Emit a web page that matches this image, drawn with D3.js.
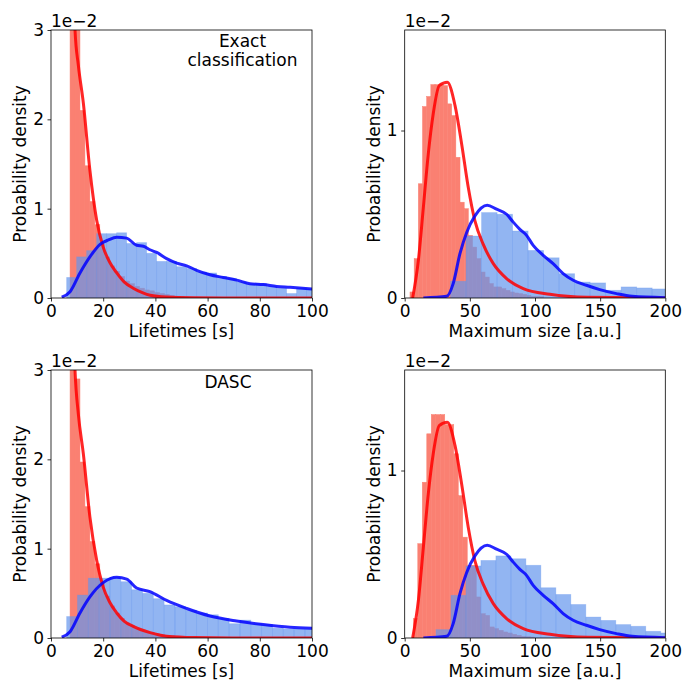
<!DOCTYPE html>
<html><head><meta charset="utf-8">
<script src="https://cdn.jsdelivr.net/npm/d3@7"></script>
<style>body{margin:0;background:#fff}svg text{font-family:"DejaVu Sans",sans-serif}</style>
</head><body><svg id="c" width="683" height="681"></svg>
<script>
// ---------- data ----------
// Panel A: lifetimes, exact classification
const lifeExactRedStart = 7.3, lifeExactRedWidth = 1.9;
const lifeExactRed = [0.045,0.031,0.021,0.0148,0.0108,0.0082,0.0060,0.0046,0.0036,0.0030,0.0024,0.0019,0.0016,0.0013,0.0011,0.0009,0.0008,0.0006,0.0005,0.0004,0.0003,0.0002,0.0002,0.0001];
const lifeExactBlueStart = 6.0, lifeExactBlueWidth = 3.83;
const lifeExactBlue = [0.0023,0.0046,0.0053,0.0072,0.0072,0.0073,0.0061,0.0062,0.0050,0.0041,0.0041,0.0035,0.0033,0.0029,0.0028,0.0024,0.0022,0.0018,0.0016,0.0016,0.0013,0.0011,0.0005,0.0011,0.0010];
const lifeExactRedLineX = [7,8,9.2,10.5,12.4,14.9,17.5,20,22.5,25.2,28,31.5,35,38,44,55,70,85,100];
const lifeExactRedLineY = [0.06,0.042,0.030,0.026,0.0218,0.0143,0.0087,0.0057,0.0040,0.0028,0.0018,0.0011,0.0006,0.0003,0.0001,0.00003,0.00001,0.0,0.0];
const lifeExactBlueLineX = [4.1,7.3,11.1,14.9,18.8,22,25.2,29,32.8,35.4,37.9,40.5,44.3,48.2,52,55.8,60.9,66,71.1,76.2,81.3,86.5,91.6,100];
const lifeExactBlueLineY = [0.0001,0.0007,0.0028,0.0046,0.0060,0.0065,0.0068,0.0067,0.0059,0.0058,0.0054,0.0051,0.0044,0.0039,0.0036,0.0031,0.0026,0.0023,0.0020,0.0016,0.0015,0.0013,0.0012,0.0010];

// Panel B: maximum size, exact classification
const sizeExactRedStart = 4.06, sizeExactRedWidth = 3.2;
const sizeExactRed = [0.00036,0.00235,0.00682,0.01143,0.01203,0.01274,0.01274,0.01278,0.01268,0.01159,0.01089,0.0084,0.00572,0.00533,0.00374,0.00304,0.00235,0.00155,0.00125,0.00086,0.00066,0.00066,0.00056,0.00046,0.00036,0.0003,0.00026,0.00022,0.00016,0.0001,0.0001,0.00008];
const sizeExactBlueStart = 35.2, sizeExactBlueWidth = 11.9;
const sizeExactBlue = [0.0010,0.0037,0.0051,0.0050,0.0040,0.00284,0.0024,0.00145,0.00095,0.0009,0.00046,0.00066,0.0006,0.00054];
const sizeExactRedLineX = [6.1,10.5,14.3,18.1,21.9,26.5,32.7,38.6,43.7,48.8,53.9,60.3,68,78.2,91,111.4,140,200];
const sizeExactRedLineY = [0,0.00225,0.0054,0.0086,0.0110,0.01268,0.01288,0.0115,0.0092,0.0066,0.0046,0.0032,0.00205,0.00116,0.00056,0.00022,0.00004,0];
const sizeExactBlueLineX = [14.3,32.2,37.2,42.4,47.5,53.9,63.3,70.5,78.2,83.3,88.4,93.5,98.6,106.3,113.9,121.6,129.3,139.5,149.7,162.5,174.6,200];
const sizeExactBlueLineY = [0,0.0001,0.00086,0.00265,0.0039,0.0049,0.00553,0.0053,0.0050,0.00453,0.0041,0.00374,0.00314,0.00255,0.00205,0.00146,0.00106,0.00076,0.0005,0.00026,0.0001,0.00002];

// Panel C: lifetimes, DASC
const lifeDascRedStart = 7.3, lifeDascRedWidth = 1.9;
const lifeDascRed = [0.045,0.029,0.0197,0.0147,0.0108,0.0083,0.0062,0.0047,0.0036,0.0028,0.0022,0.0017,0.0014,0.0011,0.0009,0.0007,0.0006,0.0005,0.0004,0.0003,0.0003,0.0002,0.0002,0.0001];
const lifeDascBlueStart = 6.0, lifeDascBlueWidth = 4.15;
const lifeDascBlue = [0.0024,0.0048,0.0067,0.0067,0.0068,0.0063,0.0054,0.0050,0.0044,0.0037,0.0035,0.0031,0.0028,0.0026,0.0022,0.0016,0.0020,0.0016,0.0015,0.0011,0.0010,0.0010,0.0010];
const lifeDascRedLineX = [7,8,9.2,10.5,12.4,14.9,17.5,20,22.5,25.2,28,31.5,38,44.3,55,70,85,100];
const lifeDascRedLineY = [0.06,0.042,0.030,0.025,0.0206,0.01356,0.0087,0.0057,0.0040,0.0028,0.0019,0.0013,0.0006,0.0002,0.00005,0.00001,0,0];
const lifeDascBlueLineX = [4.1,7.3,11.1,14.9,20,25.2,29,32.8,37.9,44.3,52,60.9,71.1,81.3,91.6,100];
const lifeDascBlueLineY = [0.0001,0.0007,0.0028,0.0046,0.0062,0.0068,0.0066,0.0056,0.0052,0.0042,0.0033,0.00246,0.0019,0.0015,0.0012,0.0011];

// Panel D: maximum size, DASC
const sizeDascRedStart = 6.6, sizeDascRedWidth = 3.45;
const sizeDascRed = [0.00116,0.00563,0.0093,0.01219,0.01334,0.01334,0.01334,0.01274,0.01274,0.0110,0.0085,0.00602,0.00434,0.00434,0.00245,0.00145,0.00135,0.00066,0.00056,0.00046,0.00036,0.0003,0.00022,0.00016,0.0001,0.00008,0.00006];
const sizeDascBlueStart = 24.0, sizeDascBlueWidth = 11.5;
const sizeDascBlue = [0.0005,0.00255,0.0043,0.00463,0.0049,0.00473,0.00434,0.0030,0.0026,0.0020,0.00125,0.00105,0.0008,0.0007,0.0004,0.0003];
const sizeDascRedLineX = sizeExactRedLineX;
const sizeDascRedLineY = [0,0.00225,0.0054,0.0086,0.0110,0.01268,0.01288,0.0115,0.0092,0.0066,0.0046,0.0032,0.00205,0.00116,0.00056,0.00022,0.00004,0];
const sizeDascBlueLineX = sizeExactBlueLineX;
const sizeDascBlueLineY = [0,0.0001,0.00086,0.00265,0.0039,0.0049,0.00553,0.0053,0.0050,0.00453,0.0041,0.00374,0.00314,0.00255,0.00205,0.00146,0.00106,0.00076,0.0005,0.00026,0.0001,0.00002];

const lifeTicks = [0,20,40,60,80,100];
const sizeTicks = [0,50,100,150,200];
const lifeYTicks = [0,1,2,3];
const sizeYTicks = [0,1];

// ---------- drawing ----------
const svg = d3.select("#c");
const panels = [
  {l:51, r:312, t:30, b:298, xmax:100, ymax:0.03, xt:lifeTicks, yt:lifeYTicks, xl:"Lifetimes [s]",
   rs:lifeExactRedStart, rw:lifeExactRedWidth, rv:lifeExactRed, bs:lifeExactBlueStart, bw:lifeExactBlueWidth, bv:lifeExactBlue,
   rlx:lifeExactRedLineX, rly:lifeExactRedLineY, blx:lifeExactBlueLineX, bly:lifeExactBlueLineY, note:["Exact","classification"], nx:242.5, ny:47},
  {l:404.7, r:665.3, t:30, b:298, xmax:200, ymax:0.016, xt:sizeTicks, yt:sizeYTicks, xl:"Maximum size [a.u.]",
   rs:sizeExactRedStart, rw:sizeExactRedWidth, rv:sizeExactRed, bs:sizeExactBlueStart, bw:sizeExactBlueWidth, bv:sizeExactBlue,
   rlx:sizeExactRedLineX, rly:sizeExactRedLineY, blx:sizeExactBlueLineX, bly:sizeExactBlueLineY},
  {l:51, r:312, t:370, b:638, xmax:100, ymax:0.03, xt:lifeTicks, yt:lifeYTicks, xl:"Lifetimes [s]",
   rs:lifeDascRedStart, rw:lifeDascRedWidth, rv:lifeDascRed, bs:lifeDascBlueStart, bw:lifeDascBlueWidth, bv:lifeDascBlue,
   rlx:lifeDascRedLineX, rly:lifeDascRedLineY, blx:lifeDascBlueLineX, bly:lifeDascBlueLineY, note:["DASC"], nx:228, ny:388},
  {l:404.7, r:665.3, t:370, b:638, xmax:200, ymax:0.016, xt:sizeTicks, yt:sizeYTicks, xl:"Maximum size [a.u.]",
   rs:sizeDascRedStart, rw:sizeDascRedWidth, rv:sizeDascRed, bs:sizeDascBlueStart, bw:sizeDascBlueWidth, bv:sizeDascBlue,
   rlx:sizeDascRedLineX, rly:sizeDascRedLineY, blx:sizeDascBlueLineX, bly:sizeDascBlueLineY}
];
const FS = 17;
panels.forEach((p, i) => {
  const x = d3.scaleLinear().domain([0, p.xmax]).range([p.l, p.r]);
  const y = d3.scaleLinear().domain([0, p.ymax]).range([p.b, p.t]);
  const clipId = "clip" + i;
  svg.append("clipPath").attr("id", clipId).append("rect")
    .attr("x", p.l).attr("y", p.t).attr("width", p.r - p.l).attr("height", p.b - p.t);
  const g = svg.append("g").attr("clip-path", `url(#${clipId})`);
  const bins = (s, w, v) => v.map((d, k) => ({x0: s + k*w, x1: s + (k+1)*w, v: d}));
  g.selectAll(null).data(bins(p.rs, p.rw, p.rv)).join("rect")
    .attr("x", d => x(d.x0)).attr("width", d => x(d.x1) - x(d.x0))
    .attr("y", d => y(d.v)).attr("height", d => y(0) - y(d.v))
    .attr("fill", "#fa8072").attr("stroke", "#fa8072").attr("stroke-width", 0.5);
  g.selectAll(null).data(bins(p.bs, p.bw, p.bv)).join("rect")
    .attr("x", d => x(d.x0)).attr("width", d => x(d.x1) - x(d.x0))
    .attr("y", d => y(d.v)).attr("height", d => y(0) - y(d.v))
    .attr("fill", "#6495ed").attr("fill-opacity", 0.7)
    .attr("stroke", "#6495ed").attr("stroke-opacity", 0.35).attr("stroke-width", 0.8);
  const line = d3.line().x(d => x(d[0])).y(d => y(d[1])).curve(d3.curveMonotoneX);
  g.append("path").datum(p.rlx.map((v, k) => [v, p.rly[k]])).attr("d", line)
    .attr("fill", "none").attr("stroke", "#ff0000").attr("stroke-opacity", 0.85).attr("stroke-width", 3);
  g.append("path").datum(p.blx.map((v, k) => [v, p.bly[k]])).attr("d", line)
    .attr("fill", "none").attr("stroke", "#0000ff").attr("stroke-opacity", 0.85).attr("stroke-width", 3);
  // axes
  const xa = svg.append("g").attr("transform", `translate(0,${p.b})`)
    .call(d3.axisBottom(x).tickValues(p.xt).tickFormat(d3.format("d")).tickSize(3.5).tickPadding(3.5));
  const ya = svg.append("g").attr("transform", `translate(${p.l},0)`)
    .call(d3.axisLeft(y).tickValues(p.yt.map(v => v/100)).tickFormat(d => d3.format("d")(Math.round(d*100))).tickSize(3.5).tickPadding(3.5));
  [xa, ya].forEach(a => {
    a.select(".domain").remove();
    a.selectAll("text").attr("font-size", FS).attr("fill", "#000").attr("font-family", "DejaVu Sans");
    a.selectAll("line").attr("stroke", "#000").attr("stroke-width", 0.8);
  });
  svg.append("rect").attr("x", p.l).attr("y", p.t).attr("width", p.r - p.l).attr("height", p.b - p.t)
    .attr("fill", "none").attr("stroke", "#000").attr("stroke-width", 0.8);
  svg.append("text").attr("x", (p.l + p.r)/2).attr("y", p.b + 39).attr("text-anchor", "middle")
    .attr("font-size", FS).text(p.xl);
  svg.append("text").attr("transform", `translate(${p.l - 25},${(p.t + p.b)/2}) rotate(-90)`)
    .attr("text-anchor", "middle").attr("font-size", FS).text("Probability density");
  svg.append("text").attr("x", p.l).attr("y", p.t - 3).attr("font-size", FS).text("1e\u22122");
  if (p.note) {
    p.note.forEach((s, k) => svg.append("text").attr("x", p.nx).attr("y", p.ny + k*19)
      .attr("text-anchor", "middle").attr("font-size", FS).text(s));
  }
});
</script></body></html>
